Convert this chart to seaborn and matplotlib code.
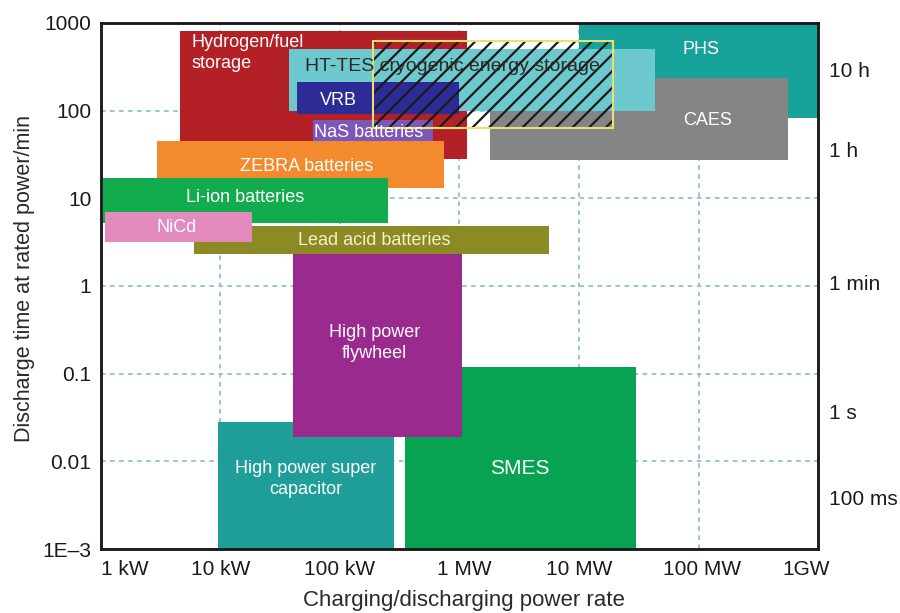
import matplotlib
matplotlib.use("Agg")
import matplotlib.pyplot as plt
import seaborn as sns
from matplotlib.transforms import ScaledTranslation

# Storage technologies: power range (kW) and discharge-time range (min)
technologies = ["PHS", "CAES", "Hydrogen/fuel\nstorage", "HT-TES", "VRB", "NaS batteries",
                "ZEBRA batteries", "Li-ion batteries", "Lead acid batteries", "NiCd",
                "SMES", "High power super\ncapacitor", "High power\nflywheel"]
power_min_kw = [9960, 1790, 4.6, 37.8, 43.3, 60, 2.97, 1.03, 6.06, 1.09, 348, 9.62, 40.1]
power_max_kw = [1.0e6, 5.6e5, 1150, 43150, 985, 597, 738, 250, 5590, 18.2, 29900, 281, 1043]
time_min_min = [82.6, 27.4, 28.1, 99.3, 91.6, 44, 13.2, 5.24, 2.32, 3.18, 1e-3, 1e-3, 0.019]
time_max_min = [1000, 236, 811, 506, 212, 78.4, 45.2, 17.1, 4.84, 7.0, 0.12, 0.0282, 2.32]
fill_colors = ["#17a39b", "#858585", "#b32127", "#6dc9cd", "#2d2b95", "#7c56b8",
               "#f38a2e", "#12ab4d", "#8c8a25", "#e28bbc", "#07a352", "#1e9d99", "#9a2a8d"]
text_colors = ["white", "white", "white", "#2a2a2a", "white", "white",
               "white", "white", "#f4f0c8", "white", "white", "white", "white"]

# Label anchors (kW, min)
label_x = [105000, 118000, 5.74, 50.6, 97.5, 174, 52.4, 16.2, 195, 4.28, 3200, 51.5, 195]
label_y = [492, 76.4, 455, 315, 132, 55.7, 22.8, 10.1, 3.27, 4.59, 0.0082, 0.0063, 0.224]
label_text = ["PHS", "CAES", "Hydrogen/fuel\nstorage", "HT-TES cryogenic energy storage", "VRB",
              "NaS batteries", "ZEBRA batteries", "Li-ion batteries", "Lead acid batteries",
              "NiCd", "SMES", "High power super\ncapacitor", "High power\nflywheel"]
label_size = [13, 13, 13, 14, 13, 13, 13, 13, 13, 13, 15, 13, 13]
label_ha = ["center", "center", "left", "left"] + ["center"] * 9

# Cryogenic energy storage (hatched overlay)
cryo_power_kw = [187.6, 19200]
cryo_time_min = [63.5, 624]

# Axis ticks
power_ticks = [1, 10, 100, 1e3, 1e4, 1e5, 1e6]
power_labels = ["1 kW", "10 kW", "100 kW", "1 MW", "10 MW", "100 MW", "1GW"]
time_ticks = [1e-3, 1e-2, 1e-1, 1, 10, 100, 1000]
time_labels = ["1E\u20133", "0.01", "0.1", "1", "10", "100", "1000"]
duration_ticks = [291, 35.6, 1.11, 0.0367, 0.00384]
duration_labels = ["10 h", "1 h", "1 min", "1 s", "100 ms"]

sns.set_theme(style="white")
plt.rcParams["font.family"] = ["Liberation Sans", "DejaVu Sans"]
plt.rcParams["hatch.linewidth"] = 1.6

fig = plt.figure(figsize=(9, 6.13), dpi=100)
ax = fig.add_axes([0.1122, 0.1044, 0.7967, 0.8581])
ax.set_xscale("log")
ax.set_yscale("log")
ax.set_xlim(1, 1e6)
ax.set_ylim(1e-3, 1e3)

grid_kw = dict(color="#8fc2cc", lw=1.3, ls=(0, (2.5, 2.5)), zorder=0)
for v in power_ticks[1:-1]:
    ax.axvline(v, **grid_kw)
for v in time_ticks[1:-1]:
    ax.axhline(v, **grid_kw)

for i in range(len(technologies)):
    ax.bar(power_min_kw[i], time_max_min[i] - time_min_min[i],
           width=power_max_kw[i] - power_min_kw[i], bottom=time_min_min[i],
           align="edge", color=fill_colors[i], linewidth=0, zorder=2 + i * 0.01)

ax.bar(cryo_power_kw[0], cryo_time_min[1] - cryo_time_min[0],
       width=cryo_power_kw[1] - cryo_power_kw[0], bottom=cryo_time_min[0],
       align="edge", fill=False, hatch="//", edgecolor="#1a1a1a", linewidth=0, zorder=3)
ax.bar(cryo_power_kw[0], cryo_time_min[1] - cryo_time_min[0],
       width=cryo_power_kw[1] - cryo_power_kw[0], bottom=cryo_time_min[0],
       align="edge", fill=False, edgecolor="#e8e070", linewidth=1.5, zorder=3.1)

for i in range(len(label_text)):
    ax.text(label_x[i], label_y[i], label_text[i], ha=label_ha[i], va="center",
            color=text_colors[i], fontsize=label_size[i], linespacing=1.25,
            multialignment=label_ha[i], zorder=4)

ax.set_xticks(power_ticks, power_labels)
ax.set_yticks(time_ticks, time_labels)
ax.minorticks_off()
ax.tick_params(axis="both", length=0, labelsize=15, colors="#1a1a1a")
ax.tick_params(axis="x", pad=8)
ax.tick_params(axis="y", pad=7)

xt = ax.get_xticklabels()
xt[0].set_ha("left")
xt[-1].set_transform(xt[-1].get_transform() + ScaledTranslation(-12 / 100, 0, fig.dpi_scale_trans))
xt[3].set_transform(xt[3].get_transform() + ScaledTranslation(5 / 100, 0, fig.dpi_scale_trans))
xt[5].set_transform(xt[5].get_transform() + ScaledTranslation(4 / 100, 0, fig.dpi_scale_trans))

ax2 = ax.twinx()
ax2.set_yscale("log")
ax2.set_ylim(1e-3, 1e3)
ax2.set_yticks(duration_ticks, duration_labels)
ax2.minorticks_off()
ax2.tick_params(axis="y", length=0, labelsize=15, colors="#1a1a1a", pad=8)

for a in (ax, ax2):
    for s in a.spines.values():
        s.set_color("#1a1a1a")
        s.set_linewidth(1.8)
        s.set_visible(True)

ax.set_xlabel("Charging/discharging power rate", fontsize=16, color="#2a2a2a", va="center")
ax.set_ylabel("Discharge time at rated power/min", fontsize=15.5, color="#2a2a2a", va="center")
ax.xaxis.set_label_coords(0.506, -0.098)
ax.yaxis.set_label_coords(-0.106, 0.515)

fig.savefig("out.png", dpi=100)
